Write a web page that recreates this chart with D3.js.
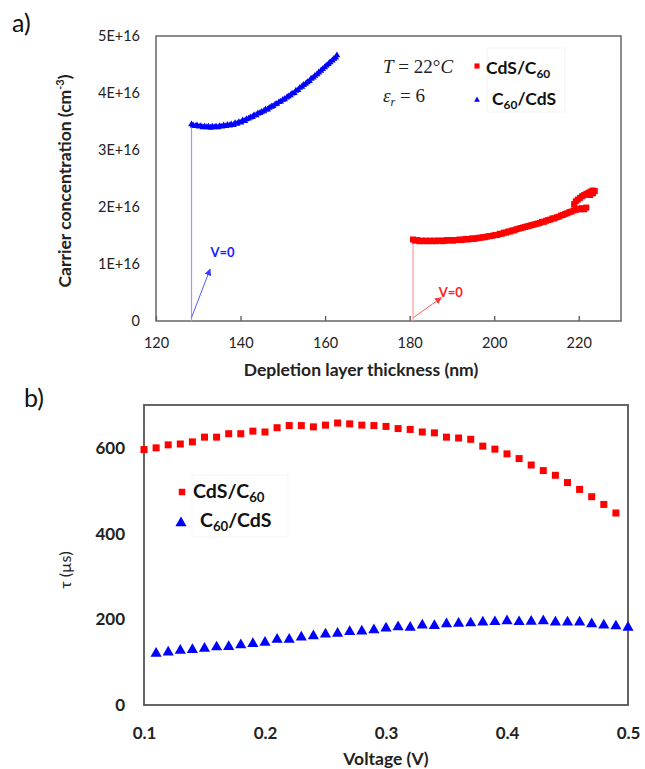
<!DOCTYPE html>
<html>
<head>
<meta charset="utf-8">
<script src="https://cdn.jsdelivr.net/npm/d3@7/dist/d3.min.js"></script>
<style>
  body { margin: 0; background: #fff; }
  svg { display: block; }
</style>
</head>
<body>
<svg id="chart" width="645" height="769"></svg>
<script>
// ---------- Panel a: carrier concentration vs depletion layer thickness ----------
// C60/CdS (blue triangles)
const c60cdsThickness = [
  128.4,128.8,129.3,129.7,130.2,130.6,131.1,131.5,132.0,132.4,132.9,133.3,133.8,134.2,134.7,
  135.1,135.6,136.0,136.5,136.9,137.4,137.8,138.3,138.7,139.2,139.6,140.1,140.5,141.0,141.4,
  141.9,142.3,142.8,143.2,143.7,144.1,144.6,145.0,145.5,145.9,146.4,146.8,147.3,147.7,148.2,
  148.6,149.1,149.5,150.0,150.4,150.9,151.3,151.8,152.2,152.7,153.1,153.6,154.0,154.5,154.9,
  155.4,155.8,156.3,156.7,157.2,157.6,158.1,158.5,159.0,159.4,159.9,160.3,160.8,161.2,161.7,
  162.1,162.5,162.8
];
const c60cdsConc = [ // units of 1E16 cm^-3
  3.45,3.43,3.42,3.43,3.41,3.42,3.40,3.41,3.40,3.41,3.39,3.41,3.40,3.41,3.40,
  3.42,3.41,3.43,3.42,3.44,3.43,3.45,3.44,3.47,3.46,3.49,3.48,3.52,3.51,3.54,
  3.55,3.57,3.58,3.61,3.61,3.64,3.65,3.67,3.68,3.71,3.71,3.74,3.76,3.77,3.80,
  3.81,3.84,3.85,3.88,3.89,3.92,3.94,3.96,3.99,4.00,4.04,4.05,4.09,4.11,4.14,
  4.16,4.19,4.21,4.25,4.27,4.30,4.33,4.36,4.39,4.42,4.45,4.48,4.51,4.54,4.57,
  4.60,4.62,4.66
];
// CdS/C60 (red squares)
const cdsc60Thickness = [
  180.8,181.3,181.8,182.3,182.8,183.3,183.8,184.3,184.8,185.3,185.8,186.3,186.8,187.3,187.8,
  188.3,188.8,189.3,189.8,190.3,190.8,191.3,191.8,192.3,192.8,193.3,193.8,194.3,194.8,195.3,
  195.8,196.3,196.8,197.3,197.8,198.3,198.8,199.3,199.8,200.3,200.8,201.3,201.8,202.3,202.8,
  203.3,203.8,204.3,204.8,205.3,205.8,206.3,206.8,207.3,207.8,208.3,208.8,209.3,209.8,210.3,
  210.8,211.3,211.8,212.3,212.8,213.3,213.8,214.3,214.8,215.3,215.8,216.3,216.8,217.3,217.8,
  218.3,218.8,219.3,219.8,220.3,220.8,221.3,221.8,
  218.9,219.3,219.8,220.3,220.8,221.3,221.8,222.3,222.8,223.3,223.8,223.4,222.7
];
const cdsc60Conc = [
  1.43,1.41,1.42,1.40,1.41,1.40,1.41,1.40,1.41,1.40,1.41,1.40,1.41,1.41,1.40,
  1.41,1.42,1.41,1.42,1.41,1.42,1.42,1.43,1.42,1.43,1.44,1.43,1.44,1.45,1.44,
  1.45,1.46,1.46,1.47,1.47,1.48,1.49,1.49,1.50,1.51,1.51,1.53,1.53,1.55,1.55,
  1.57,1.57,1.59,1.59,1.61,1.62,1.63,1.64,1.65,1.66,1.67,1.68,1.69,1.70,1.71,
  1.72,1.74,1.74,1.76,1.77,1.78,1.80,1.80,1.82,1.83,1.85,1.86,1.88,1.89,1.91,
  1.92,1.94,1.95,1.97,1.96,1.98,1.96,1.99,
  2.05,2.10,2.13,2.16,2.19,2.21,2.23,2.25,2.27,2.29,2.28,2.24,2.21
];
const thicknessTicks = [120, 140, 160, 180, 200, 220];
const concTicks = [0, 1, 2, 3, 4, 5];
const concTickLabels = ["0", "1E+16", "2E+16", "3E+16", "4E+16", "5E+16"];

// ---------- Panel b: lifetime vs voltage ----------
const cdsc60Voltage = [
  0.10,0.11,0.12,0.13,0.14,0.15,0.16,0.17,0.18,0.19,0.20,0.21,0.22,0.23,0.24,0.25,0.26,0.27,0.28,0.29,
  0.30,0.31,0.32,0.33,0.34,0.35,0.36,0.37,0.38,0.39,0.40,0.41,0.42,0.43,0.44,0.45,0.46,0.47,0.48,0.49
];
const cdsc60Tau = [
  596,600,607,609,614,625,625,633,633,639,637,647,652,652,649,653,658,656,653,652,
  650,645,643,637,635,625,623,620,604,597,586,575,560,547,536,519,503,486,468,448
];
const c60cdsVoltage = [
  0.11,0.12,0.13,0.14,0.15,0.16,0.17,0.18,0.19,0.20,0.21,0.22,0.23,0.24,0.25,0.26,0.27,0.28,0.29,0.30,
  0.31,0.32,0.33,0.34,0.35,0.36,0.37,0.38,0.39,0.40,0.41,0.42,0.43,0.44,0.45,0.46,0.47,0.48,0.49,0.50
];
const c60cdsTau = [
  120,123,127,129,132,135,136,140,143,146,153,153,158,161,165,167,171,172,175,179,
  182,181,186,185,189,190,191,193,194,196,194,195,196,193,193,193,189,186,184,181
];
const voltageTicks = [0.1, 0.2, 0.3, 0.4, 0.5];
const tauTicks = [0, 200, 400, 600];

const RED = "#ff0000", BLUE = "#0000ff";
const SANS = "Lato, 'Open Sans', sans-serif";
const SERIF = "'Liberation Serif', 'DejaVu Serif', serif";

const svg = d3.select("#chart");

const defs = svg.append("defs");
function arrowMarker(id, color) {
  defs.append("marker")
    .attr("id", id).attr("viewBox", "0 0 10 10")
    .attr("refX", 9).attr("refY", 5)
    .attr("markerWidth", 7).attr("markerHeight", 7)
    .attr("markerUnits", "userSpaceOnUse")
    .attr("orient", "auto")
    .append("path").attr("d", "M0,0 L10,5 L0,10 Z").attr("fill", color);
}
arrowMarker("arrowBlue", "#3a3aff");
arrowMarker("arrowRed", "#ff3a3a");

function legendText(g, x, y, parts, size) {
  const t = g.append("text").attr("x", x).attr("y", y)
    .attr("font-family", SANS).attr("font-weight", 700)
    .attr("font-size", size).attr("fill", "#111");
  parts.forEach(p => {
    const ts = t.append("tspan").text(p.t);
    if (p.sub) ts.attr("font-size", size * 0.68).attr("dy", size * 0.22);
    else if (p.back) ts.attr("dy", -size * 0.22);
  });
  return t;
}

// ===== Panel a =====
const A = { left: 156, top: 36, right: 621, bottom: 321 };
const xA = d3.scaleLinear().domain([120, 230]).range([A.left, A.right]);
const yA = d3.scaleLinear().domain([0, 5]).range([A.bottom, A.top]);
const gA = svg.append("g");

gA.append("text").attr("x", 12).attr("y", 32)
  .attr("font-family", SANS).attr("font-size", 25).attr("fill", "#111").text("a)");

gA.append("g").attr("transform", `translate(0,${A.bottom})`)
  .call(d3.axisBottom(xA).tickValues(thicknessTicks).tickSizeInner(-5).tickSizeOuter(0).tickPadding(17))
  .call(g => g.select(".domain").remove())
  .call(g => g.selectAll("line").attr("stroke", "#555").attr("stroke-width", 1.3))
  .call(g => g.selectAll("text").attr("font-family", SANS).attr("font-size", 14.5).attr("fill", "#222"));

gA.append("g").attr("transform", `translate(${A.left},0)`)
  .call(d3.axisLeft(yA).tickValues(concTicks).tickSize(0).tickPadding(16)
    .tickFormat((d, i) => concTickLabels[i]))
  .call(g => g.select(".domain").remove())
  .call(g => g.selectAll("text").attr("font-family", SANS).attr("font-size", 14.5).attr("fill", "#222"));

gA.append("rect").attr("x", A.left).attr("y", A.top)
  .attr("width", A.right - A.left).attr("height", A.bottom - A.top)
  .attr("fill", "none").attr("stroke", "#666").attr("stroke-width", 1.5);

// axis titles
gA.append("text").attr("x", 361).attr("y", 376).attr("text-anchor", "middle")
  .attr("font-family", SANS).attr("font-weight", 700).attr("font-size", 17.5).attr("fill", "#222")
  .text("Depletion layer thickness (nm)");
const yTitleA = gA.append("text").attr("transform", "translate(71,181) rotate(-90)")
  .attr("text-anchor", "middle").attr("font-family", SANS).attr("font-weight", 700)
  .attr("font-size", 17.5).attr("fill", "#222");
yTitleA.append("tspan").text("Carrier concentration (cm");
yTitleA.append("tspan").text("-3").attr("font-size", 11).attr("dy", -7);
yTitleA.append("tspan").text(")").attr("dy", 7);

// V=0 drop lines from the first point of each series
gA.append("line")
  .attr("x1", xA(c60cdsThickness[0])).attr("x2", xA(c60cdsThickness[0]))
  .attr("y1", yA(0)).attr("y2", yA(c60cdsConc[0]))
  .attr("stroke", "#9a9aff").attr("stroke-width", 1.2);
gA.append("line")
  .attr("x1", xA(cdsc60Thickness[0])).attr("x2", xA(cdsc60Thickness[0]))
  .attr("y1", yA(0)).attr("y2", yA(cdsc60Conc[0]))
  .attr("stroke", "#ff9a9a").attr("stroke-width", 1.2);

// arrows pointing to the V=0 foot of each series
gA.append("line")
  .attr("x1", xA(128.4)).attr("y1", yA(0.06)).attr("x2", xA(132.8)).attr("y2", yA(0.91))
  .attr("stroke", "#5a5aff").attr("stroke-width", 1).attr("marker-end", "url(#arrowBlue)");
gA.append("text").attr("x", xA(132.9)).attr("y", yA(1.13))
  .attr("font-family", SANS).attr("font-weight", 700).attr("font-size", 13).attr("fill", "#2020ff")
  .text("V=0");
gA.append("line")
  .attr("x1", xA(180.9)).attr("y1", yA(0.06)).attr("x2", xA(187.5)).attr("y2", yA(0.41))
  .attr("stroke", "#ff5a5a").attr("stroke-width", 1).attr("marker-end", "url(#arrowRed)");
gA.append("text").attr("x", xA(186.9)).attr("y", yA(0.42))
  .attr("font-family", SANS).attr("font-weight", 700).attr("font-size", 13).attr("fill", "#ff2020")
  .text("V=0");

// data marks
const smallSquare = d3.symbol().type(d3.symbolSquare).size(36);
const smallTri = d3.symbol().type(d3.symbolTriangle).size(20);
gA.append("g").selectAll("path").data(d3.range(cdsc60Thickness.length)).join("path")
  .attr("d", smallSquare)
  .attr("transform", i => `translate(${xA(cdsc60Thickness[i])},${yA(cdsc60Conc[i])})`)
  .attr("fill", RED);
gA.append("g").selectAll("path").data(d3.range(c60cdsThickness.length)).join("path")
  .attr("d", smallTri)
  .attr("transform", i => `translate(${xA(c60cdsThickness[i])},${yA(c60cdsConc[i])})`)
  .attr("fill", BLUE);

// conditions and legend
const condT = gA.append("text").attr("x", 383).attr("y", 73)
  .attr("font-family", SERIF).attr("font-size", 19).attr("fill", "#222");
condT.append("tspan").attr("font-style", "italic").text("T");
condT.append("tspan").text(" = 22°");
condT.append("tspan").attr("font-style", "italic").text("C");
const condE = gA.append("text").attr("x", 383).attr("y", 102)
  .attr("font-family", SERIF).attr("font-size", 19).attr("fill", "#222");
condE.append("tspan").attr("font-style", "italic").text("ε");
condE.append("tspan").attr("font-style", "italic").attr("font-size", 12).attr("dy", 4).text("r");
condE.append("tspan").attr("dy", -4).text("  = 6");

gA.append("rect").attr("x", 487).attr("y", 48).attr("width", 78).attr("height", 64)
  .attr("fill", "none").attr("stroke", "#f3f3f3");
gA.append("path").attr("d", d3.symbol().type(d3.symbolSquare).size(26)).attr("transform", "translate(477,66)").attr("fill", RED);
gA.append("path").attr("d", d3.symbol().type(d3.symbolTriangle).size(15)).attr("transform", "translate(477,100)").attr("fill", BLUE);
legendText(gA, 486, 74, [{ t: "CdS/C" }, { t: "60", sub: true }], 17.5);
legendText(gA, 492, 105, [{ t: "C" }, { t: "60", sub: true }, { t: "/CdS", back: true }], 17.5);

// ===== Panel b =====
const B = { left: 144, top: 405, right: 628, bottom: 705 };
const xB = d3.scaleLinear().domain([0.1, 0.5]).range([B.left, B.right]);
const yB = d3.scaleLinear().domain([0, 700]).range([B.bottom, B.top]);
const gB = svg.append("g");

gB.append("text").attr("x", 24).attr("y", 407)
  .attr("font-family", SANS).attr("font-size", 25).attr("fill", "#111").text("b)");

gB.append("g").attr("transform", `translate(0,${B.bottom})`)
  .call(d3.axisBottom(xB).tickValues(voltageTicks).tickSize(0).tickPadding(22)
    .tickFormat(d3.format(".1f")))
  .call(g => g.select(".domain").remove())
  .call(g => g.selectAll("text").attr("font-family", SANS).attr("font-weight", 700)
    .attr("font-size", 17).attr("fill", "#222"));

gB.append("g").attr("transform", `translate(${B.left},0)`)
  .call(d3.axisLeft(yB).tickValues(tauTicks).tickSize(0).tickPadding(19))
  .call(g => g.select(".domain").remove())
  .call(g => g.selectAll("text").attr("font-family", SANS).attr("font-weight", 700)
    .attr("font-size", 17).attr("fill", "#222"));

gB.append("rect").attr("x", B.left).attr("y", B.top)
  .attr("width", B.right - B.left).attr("height", B.bottom - B.top)
  .attr("fill", "none").attr("stroke", "#555").attr("stroke-width", 1.8);

gB.append("text").attr("x", 386).attr("y", 765).attr("text-anchor", "middle")
  .attr("font-family", SANS).attr("font-weight", 700).attr("font-size", 17.5).attr("fill", "#222")
  .text("Voltage (V)");
gB.append("text").attr("transform", "translate(71,570) rotate(-90)").attr("text-anchor", "middle")
  .attr("font-family", SANS).attr("font-size", 16).attr("fill", "#222")
  .text("τ (µs)");

const bigSquare = d3.symbol().type(d3.symbolSquare).size(49);
const bigTri = d3.symbol().type(d3.symbolTriangle).size(54);
gB.append("g").selectAll("path").data(d3.range(cdsc60Voltage.length)).join("path")
  .attr("d", bigSquare)
  .attr("transform", i => `translate(${xB(cdsc60Voltage[i])},${yB(cdsc60Tau[i])})`)
  .attr("fill", RED);
gB.append("g").selectAll("path").data(d3.range(c60cdsVoltage.length)).join("path")
  .attr("d", bigTri)
  .attr("transform", i => `translate(${xB(c60cdsVoltage[i])},${yB(c60cdsTau[i])})`)
  .attr("fill", BLUE);

// legend
gB.append("rect").attr("x", 192).attr("y", 475).attr("width", 96).attr("height", 62)
  .attr("fill", "none").attr("stroke", "#f5f5f5");
gB.append("path").attr("d", d3.symbol().type(d3.symbolSquare).size(42)).attr("transform", "translate(182,492)").attr("fill", RED);
gB.append("path").attr("d", bigTri).attr("transform", "translate(181,523)").attr("fill", BLUE);
legendText(gB, 193, 498, [{ t: "CdS/C" }, { t: "60", sub: true }], 19.5);
legendText(gB, 200, 527, [{ t: "C" }, { t: "60", sub: true }, { t: "/CdS", back: true }], 19.5);
</script>
</body>
</html>
